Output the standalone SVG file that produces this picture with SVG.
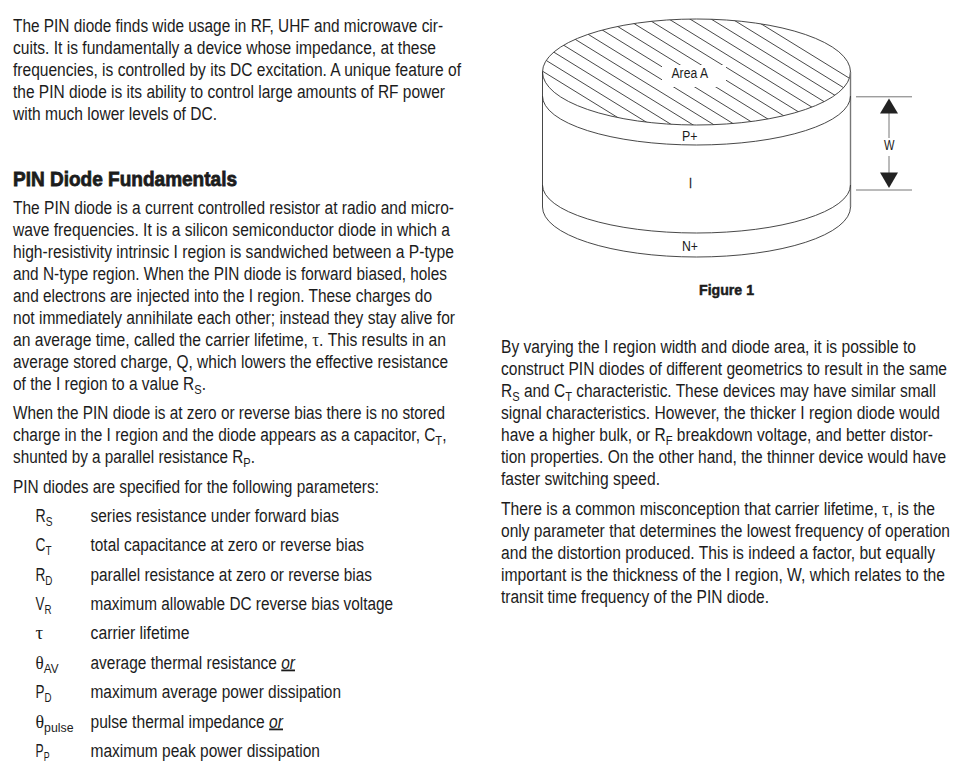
<svg xmlns="http://www.w3.org/2000/svg" width="976" height="782" viewBox="0 0 976 782">
<style>
text{font-family:"Liberation Sans",Arial,sans-serif;fill:#1c1c1c}
.b{font-size:18px}
.s{font-size:13px}
.g{font-family:"Liberation Serif",serif;font-size:19px}
.h{font-size:21px;font-weight:700;stroke:#1c1c1c;stroke-width:.8px}
.f{font-size:14px}
.fb{font-size:15.5px;font-weight:700;stroke:#1c1c1c;stroke-width:.5px}
.l{fill:none;stroke:#333;stroke-width:.9}
.o{font-style:italic;text-decoration:underline}
</style>
<defs><clipPath id="top"><ellipse cx="696.5" cy="72" rx="154" ry="53"/></clipPath></defs>
<rect width="976" height="782" fill="#fff"/>
<g id="left-column">
<text class="b" x="13" y="32" textLength="430" lengthAdjust="spacingAndGlyphs">The PIN diode finds wide usage in RF, UHF and microwave cir-</text>
<text class="b" x="13" y="54" textLength="423" lengthAdjust="spacingAndGlyphs">cuits. It is fundamentally a device whose impedance, at these</text>
<text class="b" x="13" y="76" textLength="448" lengthAdjust="spacingAndGlyphs">frequencies, is controlled by its DC excitation. A unique feature of</text>
<text class="b" x="13" y="98" textLength="432" lengthAdjust="spacingAndGlyphs">the PIN diode is its ability to control large amounts of RF power</text>
<text class="b" x="13" y="119.5" textLength="204" lengthAdjust="spacingAndGlyphs">with much lower levels of DC.</text>
<text class="h" x="13" y="186" textLength="224" lengthAdjust="spacingAndGlyphs">PIN Diode Fundamentals</text>
<text class="b" x="13" y="213.5" textLength="441" lengthAdjust="spacingAndGlyphs">The PIN diode is a current controlled resistor at radio and micro-</text>
<text class="b" x="13" y="235.5" textLength="437" lengthAdjust="spacingAndGlyphs">wave frequencies. It is a silicon semiconductor diode in which a</text>
<text class="b" x="13" y="257.5" textLength="441" lengthAdjust="spacingAndGlyphs">high-resistivity intrinsic I region is sandwiched between a P-type</text>
<text class="b" x="13" y="279.5" textLength="434" lengthAdjust="spacingAndGlyphs">and N-type region. When the PIN diode is forward biased, holes</text>
<text class="b" x="13" y="301.5" textLength="419" lengthAdjust="spacingAndGlyphs">and electrons are injected into the I region. These charges do</text>
<text class="b" x="13" y="323.5" textLength="442" lengthAdjust="spacingAndGlyphs">not immediately annihilate each other; instead they stay alive for</text>
<text class="b" x="13" y="345.5" textLength="433" lengthAdjust="spacingAndGlyphs">an average time, called the carrier lifetime, <tspan class="g">τ</tspan>. This results in an</text>
<text class="b" x="13" y="367.5" textLength="435" lengthAdjust="spacingAndGlyphs">average stored charge, Q, which lowers the effective resistance</text>
<text class="b" x="13" y="389.5" textLength="193" lengthAdjust="spacingAndGlyphs">of the I region to a value R<tspan class="s" dy="4">S</tspan><tspan dy="-4">.</tspan></text>
<text class="b" x="13" y="419" textLength="432" lengthAdjust="spacingAndGlyphs">When the PIN diode is at zero or reverse bias there is no stored</text>
<text class="b" x="13" y="441" textLength="433.5" lengthAdjust="spacingAndGlyphs">charge in the I region and the diode appears as a capacitor, C<tspan class="s" dy="4">T</tspan><tspan dy="-4">,</tspan></text>
<text class="b" x="13" y="463" textLength="242" lengthAdjust="spacingAndGlyphs">shunted by a parallel resistance R<tspan class="s" dy="4">P</tspan><tspan dy="-4">.</tspan></text>
<text class="b" x="13" y="492.5" textLength="366" lengthAdjust="spacingAndGlyphs">PIN diodes are specified for the following parameters:</text>
</g>
<g id="parameter-list">
<text class="b" x="35.5" y="521.5" textLength="17" lengthAdjust="spacingAndGlyphs">R<tspan class="s" dy="4">S</tspan></text>
<text class="b" x="90.5" y="521.5" textLength="248.5" lengthAdjust="spacingAndGlyphs">series resistance under forward bias</text>
<text class="b" x="35.5" y="551" textLength="16" lengthAdjust="spacingAndGlyphs">C<tspan class="s" dy="4">T</tspan></text>
<text class="b" x="90.5" y="551" textLength="273.5" lengthAdjust="spacingAndGlyphs">total capacitance at zero or reverse bias</text>
<text class="b" x="35.5" y="580.5" textLength="17" lengthAdjust="spacingAndGlyphs">R<tspan class="s" dy="4">D</tspan></text>
<text class="b" x="90.5" y="580.5" textLength="281.5" lengthAdjust="spacingAndGlyphs">parallel resistance at zero or reverse bias</text>
<text class="b" x="35.5" y="610" textLength="16" lengthAdjust="spacingAndGlyphs">V<tspan class="s" dy="4">R</tspan></text>
<text class="b" x="90.5" y="610" textLength="302.5" lengthAdjust="spacingAndGlyphs">maximum allowable DC reverse bias voltage</text>
<text class="g" x="35.5" y="639">τ</text>
<text class="b" x="90.5" y="639" textLength="99" lengthAdjust="spacingAndGlyphs">carrier lifetime</text>
<text class="b" x="35.5" y="668.5" textLength="23" lengthAdjust="spacingAndGlyphs"><tspan class="g">θ</tspan><tspan class="s" dy="4">AV</tspan></text>
<text class="b" x="90.5" y="668.5" textLength="204.5" lengthAdjust="spacingAndGlyphs">average thermal resistance <tspan class="o">or</tspan></text>
<text class="b" x="35.5" y="698" textLength="16" lengthAdjust="spacingAndGlyphs">P<tspan class="s" dy="4">D</tspan></text>
<text class="b" x="90.5" y="698" textLength="250.5" lengthAdjust="spacingAndGlyphs">maximum average power dissipation</text>
<text class="b" x="35.5" y="727.5" textLength="38" lengthAdjust="spacingAndGlyphs"><tspan class="g">θ</tspan><tspan class="s" dy="4">pulse</tspan></text>
<text class="b" x="90.5" y="727.5" textLength="192.5" lengthAdjust="spacingAndGlyphs">pulse thermal impedance <tspan class="o">or</tspan></text>
<text class="b" x="35.5" y="757" textLength="14" lengthAdjust="spacingAndGlyphs">P<tspan class="s" dy="4">P</tspan></text>
<text class="b" x="90.5" y="757" textLength="229.5" lengthAdjust="spacingAndGlyphs">maximum peak power dissipation</text>
</g>
<g id="right-column">
<text class="b" x="501" y="352.7" textLength="415" lengthAdjust="spacingAndGlyphs">By varying the I region width and diode area, it is possible to</text>
<text class="b" x="501" y="374.7" textLength="446" lengthAdjust="spacingAndGlyphs">construct PIN diodes of different geometrics to result in the same</text>
<text class="b" x="501" y="396.7" textLength="435" lengthAdjust="spacingAndGlyphs">R<tspan class="s" dy="4">S</tspan><tspan dy="-4"> and C</tspan><tspan class="s" dy="4">T</tspan><tspan dy="-4"> characteristic. These devices may have similar small</tspan></text>
<text class="b" x="501" y="418.7" textLength="439" lengthAdjust="spacingAndGlyphs">signal characteristics. However, the thicker I region diode would</text>
<text class="b" x="501" y="441" textLength="432" lengthAdjust="spacingAndGlyphs">have a higher bulk, or R<tspan class="s" dy="4">F</tspan><tspan dy="-4"> breakdown voltage, and better distor-</tspan></text>
<text class="b" x="501" y="463" textLength="445" lengthAdjust="spacingAndGlyphs">tion properties. On the other hand, the thinner device would have</text>
<text class="b" x="501" y="485" textLength="159" lengthAdjust="spacingAndGlyphs">faster switching speed.</text>
<text class="b" x="501" y="514.5" textLength="434" lengthAdjust="spacingAndGlyphs">There is a common misconception that carrier lifetime, <tspan class="g">τ</tspan>, is the</text>
<text class="b" x="501" y="536.5" textLength="449" lengthAdjust="spacingAndGlyphs">only parameter that determines the lowest frequency of operation</text>
<text class="b" x="501" y="558.5" textLength="434" lengthAdjust="spacingAndGlyphs">and the distortion produced. This is indeed a factor, but equally</text>
<text class="b" x="501" y="580.5" textLength="444" lengthAdjust="spacingAndGlyphs">important is the thickness of the I region, W, which relates to the</text>
<text class="b" x="501" y="602.5" textLength="268" lengthAdjust="spacingAndGlyphs">transit time frequency of the PIN diode.</text>
</g>
<g id="figure">
<g clip-path="url(#top)">
<path class="l" d="M500 -137L900 109.4M500 -124L900 122.4M500 -111L900 135.4M500 -98L900 148.4M500 -85L900 161.4M500 -72L900 174.4M500 -59L900 187.4M500 -46L900 200.4M500 -33L900 213.4M500 -20L900 226.4M500 -7L900 239.4M500 6L900 252.4M500 19L900 265.4M500 32L900 278.4M500 45L900 291.4"/>
</g>
<rect x="662" y="65" width="64" height="22" fill="#fff"/>
<ellipse class="l" cx="696.5" cy="72" rx="154" ry="53"/>
<path class="l" d="M542.5 72V207"/>
<path class="l" style="stroke:#777;stroke-width:1.4" d="M850.5 72V207"/>
<path class="l" d="M542.5 96A154 49 0 0 0 850.5 96"/>
<path class="l" d="M542.5 185A154 48 0 0 0 850.5 185"/>
<path class="l" d="M542.5 207A154 50 0 0 0 850.5 207"/>
<text class="f" x="671.5" y="78" textLength="36.5" lengthAdjust="spacingAndGlyphs">Area A</text>
<text class="f" x="682" y="141" textLength="15.5" lengthAdjust="spacingAndGlyphs">P+</text>
<text class="f" x="689" y="188" style="stroke:#1c1c1c;stroke-width:.3px" textLength="3" lengthAdjust="spacingAndGlyphs">I</text>
<text class="f" x="682" y="250.7" textLength="16" lengthAdjust="spacingAndGlyphs">N+</text>
<g id="width-dimension">
<path class="l" style="stroke:#666" d="M856 96.8H912M856 190H912M889 113V138M889 156V173"/>
<path d="M889 98.5L880 113.5H898Z" fill="#222"/>
<path d="M889 188L880 172.5H898Z" fill="#222"/>
<text class="f" x="884" y="150" textLength="10.5" lengthAdjust="spacingAndGlyphs">W</text>
</g>
<text class="fb" x="699" y="295" textLength="55" lengthAdjust="spacingAndGlyphs">Figure 1</text>
</g>
</svg>
